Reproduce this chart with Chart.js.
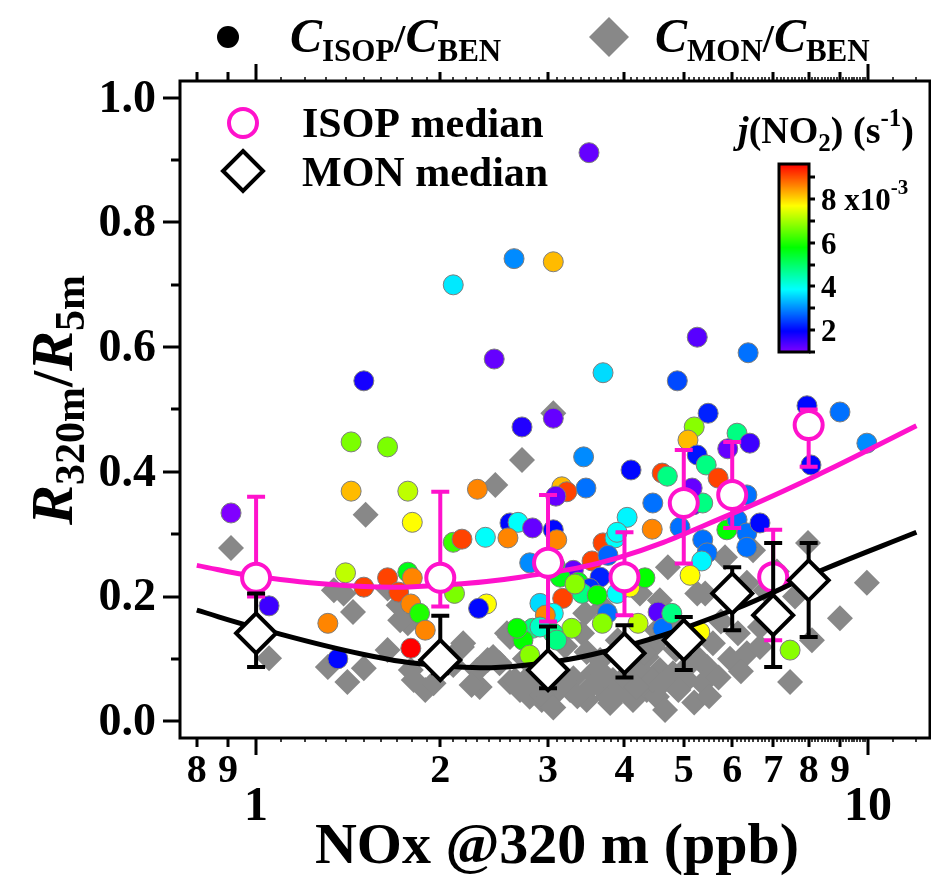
<!DOCTYPE html>
<html>
<head>
<meta charset="utf-8">
<script src="https://cdn.jsdelivr.net/npm/chart.js@4.4.1/dist/chart.umd.min.js"></script>
<style>
  html, body { margin: 0; padding: 0; background: #fff; overflow: hidden; }
  canvas { display: block; }
</style>
</head>
<body>
<canvas id="ratioChart" width="931" height="883"></canvas>
<script>
// ---- values ----
// C_ISOP / C_BEN, coloured by j(NO2) (x1e-3 s-1)
const isopNox = [0.91, 1.05, 1.36, 1.31, 1.50, 1.43, 1.64, 1.43, 1.77, 1.80, 1.40, 1.50, 1.64, 1.77, 1.80, 1.71, 1.79, 1.85, 1.89, 1.79,
  2.11, 2.10, 2.17, 2.37, 2.60, 2.68, 2.83, 2.58, 2.30, 2.45, 2.72, 3.06, 2.38, 2.31, 2.10, 2.64, 3.06, 3.50, 3.69, 3.43,
  3.46, 4.10, 5.26, 6.37, 4.88, 5.48, 5.20, 5.08, 5.26, 6.11, 6.41, 5.90, 7.95, 9.00, 9.96, 8.07, 4.61, 4.70, 5.44, 5.69,
  3.16, 3.22, 3.09, 4.45, 5.18, 5.37, 4.04, 4.44, 3.06, 3.10, 3.69, 3.54, 3.86, 3.76, 5.37, 5.88, 6.11, 6.34, 6.66, 5.46,
  5.35, 5.12, 6.34, 2.80, 3.30, 3.36, 3.65, 3.51, 3.41, 3.61, 3.89, 4.08, 4.32, 3.14, 2.91, 3.17, 3.06, 2.97, 3.28, 3.06,
  2.83, 2.73, 2.80, 2.67, 3.75, 4.21, 4.54, 4.62, 5.31, 7.46, 3.68, 3.08, 3.32, 3.89, 2.91, 3.10, 4.93, 4.78, 5.16, 6.34];
const isopRatio = [0.334, 0.185, 0.100, 0.157, 0.546, 0.448, 0.440, 0.369, 0.369, 0.319, 0.238, 0.215, 0.230, 0.239, 0.230, 0.207, 0.188, 0.173, 0.146, 0.117,
  0.205, 0.287, 0.292, 0.295, 0.318, 0.319, 0.310, 0.294, 0.372, 0.581, 0.472, 0.486, 0.188, 0.181, 0.700, 0.742, 0.737, 0.912, 0.559, 0.424,
  0.374, 0.403, 0.616, 0.591, 0.546, 0.494, 0.472, 0.451, 0.427, 0.462, 0.446, 0.437, 0.506, 0.496, 0.446, 0.411, 0.398, 0.393, 0.411, 0.390,
  0.376, 0.368, 0.361, 0.350, 0.347, 0.350, 0.327, 0.308, 0.307, 0.291, 0.286, 0.257, 0.294, 0.266, 0.291, 0.307, 0.323, 0.302, 0.318, 0.270,
  0.257, 0.234, 0.279, 0.254, 0.242, 0.223, 0.231, 0.213, 0.205, 0.202, 0.205, 0.215, 0.230, 0.231, 0.189, 0.197, 0.173, 0.170, 0.149, 0.141,
  0.149, 0.130, 0.106, 0.149, 0.173, 0.157, 0.175, 0.149, 0.143, 0.114, 0.157, 0.250, 0.220, 0.303, 0.151, 0.130, 0.311, 0.173, 0.374, 0.363];
const isopJno2 = [1.0, 1.5, 2.0, 8.6, 1.8, 6.7, 6.7, 8.2, 7.2, 7.7, 7.2, 9.1, 9.1, 5.6, 8.6, 9.1, 8.6, 6.0, 8.6, 9.6,
  6.7, 6.2, 9.1, 3.9, 2.0, 3.9, 1.2, 8.6, 8.6, 1.2, 1.7, 1.2, 7.7, 2.0, 3.7, 3.0, 8.2, 1.2, 3.6, 3.0,
  2.8, 2.0, 1.3, 2.8, 2.5, 2.2, 6.8, 8.2, 2.1, 4.8, 1.5, 1.2, 2.0, 2.8, 3.0, 2.0, 9.1, 4.8, 4.8, 9.1,
  8.2, 9.1, 1.2, 2.8, 1.2, 4.8, 3.8, 8.6, 2.0, 8.6, 9.1, 9.1, 3.9, 2.7, 2.8, 5.8, 2.8, 2.8, 2.0, 2.8,
  3.8, 7.7, 2.8, 3.0, 1.2, 5.6, 2.2, 2.3, 4.8, 5.8, 3.9, 7.7, 5.8, 5.6, 3.6, 9.1, 3.9, 8.6, 6.8, 4.8,
  4.8, 5.8, 6.8, 5.8, 2.8, 7.2, 1.3, 2.8, 7.7, 6.8, 6.8, 5.6, 6.8, 3.9, 4.3, 4.8, 2.8, 4.8, 1.2, 2.8];

// C_MON / C_BEN
const monNox = [0.91, 1.51, 2.72, 2.46, 3.06, 1.05, 1.31, 1.41, 1.44, 1.39, 1.34, 1.50, 1.64, 1.64, 1.77, 1.79, 1.89, 1.95, 1.81, 2.17,
  2.10, 2.32, 2.39, 2.60, 2.60, 2.80, 2.93, 3.02, 3.06, 2.50, 1.72, 2.18, 2.30, 2.25, 2.57, 2.44, 2.65, 2.83, 3.10, 3.30,
  3.45, 3.41, 3.47, 3.55, 3.65, 3.75, 3.83, 4.04, 4.24, 4.35, 4.13, 4.45, 3.69, 4.71, 4.57, 4.24, 4.75, 4.49, 4.35, 4.57,
  4.80, 4.52, 4.66, 5.06, 5.46, 5.37, 5.58, 5.84, 5.42, 6.34, 6.13, 6.34, 6.66, 7.98, 9.96, 9.00, 7.46, 8.10, 6.49, 5.26,
  5.31, 3.79, 3.47, 3.26, 2.94, 3.06, 3.61, 3.93, 4.08, 4.52, 6.66, 4.45, 1.71,
  2.70, 2.87, 3.18, 3.35, 3.52, 3.70, 3.90, 4.00, 4.18, 4.30, 4.60, 4.90, 5.10, 5.20, 5.50, 5.70, 5.95, 6.20, 2.75, 3.20,
  3.90, 4.85, 5.75, 6.00, 6.80, 7.10, 7.60];
const monRatio = [0.278, 0.331, 0.419, 0.379, 0.494, 0.101, 0.087, 0.063, 0.175, 0.205, 0.210, 0.085, 0.213, 0.114, 0.157, 0.082, 0.050, 0.061, 0.066, 0.119,
  0.090, 0.055, 0.098, 0.063, 0.135, 0.039, 0.034, 0.061, 0.087, 0.093, 0.162, 0.125, 0.082, 0.058, 0.141, 0.103, 0.066, 0.077, 0.047, 0.069,
  0.173, 0.141, 0.111, 0.077, 0.098, 0.039, 0.066, 0.103, 0.082, 0.050, 0.034, 0.119, 0.183, 0.247, 0.194, 0.205, 0.162, 0.125, 0.103, 0.082,
  0.077, 0.039, 0.018, 0.066, 0.087, 0.061, 0.125, 0.263, 0.205, 0.222, 0.141, 0.109, 0.151, 0.286, 0.222, 0.165, 0.063, 0.130, 0.274, 0.205,
  0.098, 0.029, 0.034, 0.050, 0.042, 0.022, 0.061, 0.061, 0.093, 0.146, 0.119, 0.066, 0.186,
  0.050, 0.060, 0.065, 0.040, 0.055, 0.075, 0.045, 0.070, 0.055, 0.110, 0.060, 0.050, 0.090, 0.030, 0.040, 0.070, 0.100, 0.080, 0.100, 0.120,
  0.130, 0.115, 0.160, 0.190, 0.210, 0.240, 0.200];

// binned medians with error bars
const medianNox = [1, 2, 3, 4, 5, 6, 7, 8];
const isopMedian = [0.230, 0.230, 0.254, 0.231, 0.350, 0.363, 0.231, 0.475];
const isopLow = [0.200, 0.184, 0.160, 0.170, 0.253, 0.310, 0.130, 0.408];
const isopHigh = [0.360, 0.368, 0.363, 0.303, 0.435, 0.448, 0.307, 0.500];
const monMedian = [0.141, 0.098, 0.082, 0.109, 0.130, 0.205, 0.170, 0.226];
const monLow = [0.087, 0.077, 0.053, 0.070, 0.082, 0.146, 0.087, 0.135];
const monHigh = [0.205, 0.169, 0.152, 0.154, 0.167, 0.247, 0.286, 0.286];

// fitted curves
const fitNox = [0.8, 1, 1.5, 2, 2.7, 3.9, 6, 8.4, 12];
const isopFit = [0.250, 0.232, 0.216, 0.218, 0.231, 0.262, 0.333, 0.398, 0.474];
const monFit = [0.178, 0.150, 0.107, 0.089, 0.089, 0.117, 0.178, 0.242, 0.303];

// axis ticks
const xLabelledMinor = [0.8, 0.9, 2, 3, 4, 5, 6, 7, 8, 9];
const xMajor = [1, 10];
const yMajor = [0, 0.2, 0.4, 0.6, 0.8, 1.0];
const yMinor = [0.1, 0.3, 0.5, 0.7, 0.9];
const cbarRange = [1.0, 9.6];
const cbarLabels = [2, 4, 6, 8];
const cbarMinor = [1, 3, 5, 7, 9];

const SERIF = '"Liberation Serif", "Times New Roman", serif';
const MAGENTA = '#ff12cc';
const GREY = '#888888';

function jColor(v) {
  const t = Math.min(1, Math.max(0, (v - cbarRange[0]) / (cbarRange[1] - cbarRange[0])));
  return 'hsl(' + (270 * (1 - t)).toFixed(1) + ', 100%, 50%)';
}

const pts = (xs, ys) => xs.map((x, i) => ({ x: x, y: ys[i] }));

// draws runs of text with sub/superscripts: [text, size, italic, dy]
function rich(ctx, parts, x, y, align) {
  const fontOf = (p) => (p[2] ? 'italic ' : '') + 'bold ' + p[1] + 'px ' + SERIF;
  let w = 0;
  parts.forEach((p) => { ctx.font = fontOf(p); w += ctx.measureText(p[0]).width; });
  let cx = align === 'center' ? x - w / 2 : x;
  ctx.textAlign = 'left';
  ctx.textBaseline = 'alphabetic';
  parts.forEach((p) => {
    ctx.font = fontOf(p);
    ctx.fillText(p[0], cx, y + (p[3] || 0));
    cx += ctx.measureText(p[0]).width;
  });
}

function diamond(ctx, x, y, r) {
  ctx.beginPath();
  ctx.moveTo(x, y - r); ctx.lineTo(x + r, y); ctx.lineTo(x, y + r); ctx.lineTo(x - r, y);
  ctx.closePath();
}

const errorBars = {
  id: 'errorBars',
  beforeDatasetDraw(chart, args) {
    const ds = chart.data.datasets[args.index];
    if (!ds.errLow) return;
    const { ctx, scales: { x, y } } = chart;
    ctx.save();
    ctx.strokeStyle = ds.borderColor;
    ctx.lineWidth = 4;
    ds.data.forEach((p, i) => {
      const px = x.getPixelForValue(p.x);
      const lo = y.getPixelForValue(ds.errLow[i]);
      const hi = y.getPixelForValue(ds.errHigh[i]);
      ctx.beginPath();
      ctx.moveTo(px, lo); ctx.lineTo(px, hi);
      ctx.moveTo(px - 9, lo); ctx.lineTo(px + 9, lo);
      ctx.moveTo(px - 9, hi); ctx.lineTo(px + 9, hi);
      ctx.stroke();
    });
    ctx.restore();
  }
};

const frameAndText = {
  id: 'frameAndText',
  afterDraw(chart) {
    const { ctx, chartArea: a, scales: { x, y } } = chart;
    ctx.save();
    ctx.fillStyle = '#000';
    ctx.strokeStyle = '#000';

    // frame
    ctx.lineWidth = 3;
    ctx.strokeRect(a.left, a.top, a.right - a.left, a.bottom - a.top);

    // x ticks, bottom and mirrored on top
    const tick = (v, len, lw) => {
      const px = Math.round(x.getPixelForValue(v));
      ctx.lineWidth = lw;
      ctx.beginPath();
      ctx.moveTo(px, a.bottom); ctx.lineTo(px, a.bottom + len);
      ctx.moveTo(px, a.top); ctx.lineTo(px, a.top - len);
      ctx.stroke();
    };
    for (let k = 11; k < 100; k++) if (k % 10) tick(k / 10, 4, 1.5);
    [11, 12].forEach((v) => tick(v, 4, 1.5));
    xLabelledMinor.forEach((v) => tick(v, 9, 3));
    xMajor.forEach((v) => tick(v, 17, 3));

    ctx.textAlign = 'center';
    ctx.textBaseline = 'middle';
    ctx.font = 'bold 40px ' + SERIF;
    xLabelledMinor.forEach((v) => ctx.fillText(String(v).replace('0.', ''), x.getPixelForValue(v), a.bottom + 34));
    ctx.font = 'bold 48px ' + SERIF;
    xMajor.forEach((v) => ctx.fillText(String(v), x.getPixelForValue(v), a.bottom + 70));
    ctx.font = 'bold 58px ' + SERIF;
    ctx.fillText('NOx @320 m (ppb)', 557, a.bottom + 110);

    // y ticks
    const ytick = (v, len) => {
      const py = Math.round(y.getPixelForValue(v));
      ctx.lineWidth = 3;
      ctx.beginPath();
      ctx.moveTo(a.left, py); ctx.lineTo(a.left - len, py);
      ctx.stroke();
    };
    yMinor.forEach((v) => ytick(v, 9));
    yMajor.forEach((v) => ytick(v, 17));
    ctx.textAlign = 'right';
    ctx.font = 'bold 46px ' + SERIF;
    yMajor.forEach((v) => ctx.fillText(v.toFixed(1), a.left - 24, y.getPixelForValue(v) + 2));

    // y title
    ctx.save();
    ctx.translate(72, 400);
    ctx.rotate(-Math.PI / 2);
    rich(ctx, [['R', 60, true], ['320m', 42, false, 12], ['/', 58, false], ['R', 60, true], ['5m', 42, false, 12]], 0, 0, 'center');
    ctx.restore();

    // top legend
    ctx.beginPath();
    ctx.arc(228, 37, 11, 0, Math.PI * 2);
    ctx.fill();
    rich(ctx, [['C', 48, true], ['ISOP', 31, false, 9], ['/', 40, false], ['C', 48, true], ['BEN', 31, false, 9]], 290, 52);
    ctx.fillStyle = GREY;
    diamond(ctx, 609, 37, 20);
    ctx.fill();
    ctx.fillStyle = '#000';
    rich(ctx, [['C', 48, true], ['MON', 31, false, 9], ['/', 40, false], ['C', 48, true], ['BEN', 31, false, 9]], 655, 52);

    // inner legend
    ctx.lineWidth = 4;
    ctx.strokeStyle = MAGENTA;
    ctx.fillStyle = '#fff';
    ctx.beginPath();
    ctx.arc(243, 123, 14, 0, Math.PI * 2);
    ctx.fill(); ctx.stroke();
    ctx.strokeStyle = '#000';
    diamond(ctx, 243, 171, 20);
    ctx.fill(); ctx.stroke();
    ctx.fillStyle = '#000';
    rich(ctx, [['ISOP median', 42, false]], 302, 137);
    rich(ctx, [['MON median', 42, false]], 302, 186);

    // colour bar
    const cb = { left: 779, right: 809, top: 164, bottom: 352 };
    const cbY = (v) => cb.bottom - (v - cbarRange[0]) / (cbarRange[1] - cbarRange[0]) * (cb.bottom - cb.top);
    for (let py = cb.top; py < cb.bottom; py++) {
      const v = cbarRange[0] + (cb.bottom - py - 0.5) / (cb.bottom - cb.top) * (cbarRange[1] - cbarRange[0]);
      ctx.fillStyle = jColor(v);
      ctx.fillRect(cb.left, py, cb.right - cb.left, 1);
    }
    ctx.lineWidth = 3;
    ctx.strokeStyle = '#000';
    ctx.strokeRect(cb.left, cb.top, cb.right - cb.left, cb.bottom - cb.top);
    cbarMinor.concat(cbarLabels).forEach((v) => {
      const py = Math.round(cbY(v));
      ctx.beginPath();
      ctx.moveTo(cb.right, py); ctx.lineTo(cb.right + 6, py);
      ctx.stroke();
    });
    ctx.fillStyle = '#000';
    cbarLabels.forEach((v) => {
      const py = cbY(v) + 11;
      if (v === 8) rich(ctx, [['8 x10', 31, false], ['-3', 21, false, -16]], cb.right + 12, py);
      else rich(ctx, [[String(v), 31, false]], cb.right + 12, py);
    });
    rich(ctx, [['j', 38, true], ['(NO', 38, false], ['2', 25, false, 8], [') (s', 38, false], ['-1', 25, false, -17], [')', 38, false]], 826, 143, 'center');

    ctx.restore();
  }
};

new Chart(document.getElementById('ratioChart'), {
  type: 'scatter',
  data: {
    datasets: [
      {
        label: 'MON median',
        data: pts(medianNox, monMedian),
        errLow: monLow,
        errHigh: monHigh,
        pointStyle: 'rectRot',
        pointRadius: 20,
        borderColor: '#000',
        backgroundColor: '#fff',
        borderWidth: 4
      },
      {
        label: 'MON fit',
        data: pts(fitNox, monFit),
        showLine: true,
        pointRadius: 0,
        borderColor: '#000',
        borderWidth: 5,
        tension: 0.4
      },
      {
        label: 'ISOP median',
        data: pts(medianNox, isopMedian),
        errLow: isopLow,
        errHigh: isopHigh,
        pointStyle: 'circle',
        pointRadius: 14,
        borderColor: MAGENTA,
        backgroundColor: '#fff',
        borderWidth: 4
      },
      {
        label: 'ISOP fit',
        data: pts(fitNox, isopFit),
        showLine: true,
        pointRadius: 0,
        borderColor: MAGENTA,
        borderWidth: 5,
        tension: 0.4
      },
      {
        label: 'C_ISOP/C_BEN',
        data: pts(isopNox, isopRatio),
        pointStyle: 'circle',
        pointRadius: 10,
        borderColor: '#7d7d7d',
        borderWidth: 1,
        backgroundColor: isopJno2.map(jColor)
      },
      {
        label: 'C_MON/C_BEN',
        data: pts(monNox, monRatio),
        pointStyle: 'rectRot',
        pointRadius: 13,
        borderWidth: 0,
        borderColor: GREY,
        backgroundColor: GREY
      }
    ]
  },
  options: {
    responsive: false,
    animation: false,
    devicePixelRatio: 1,
    layout: { autoPadding: false, padding: { left: 180, top: 81, right: 1, bottom: 145 } },
    plugins: { legend: { display: false }, tooltip: { enabled: false } },
    scales: {
      x: { type: 'logarithmic', min: 0.751, max: 12.63, display: false },
      y: { type: 'linear', min: -0.027, max: 1.027, display: false }
    }
  },
  plugins: [errorBars, frameAndText]
});
</script>
</body>
</html>
